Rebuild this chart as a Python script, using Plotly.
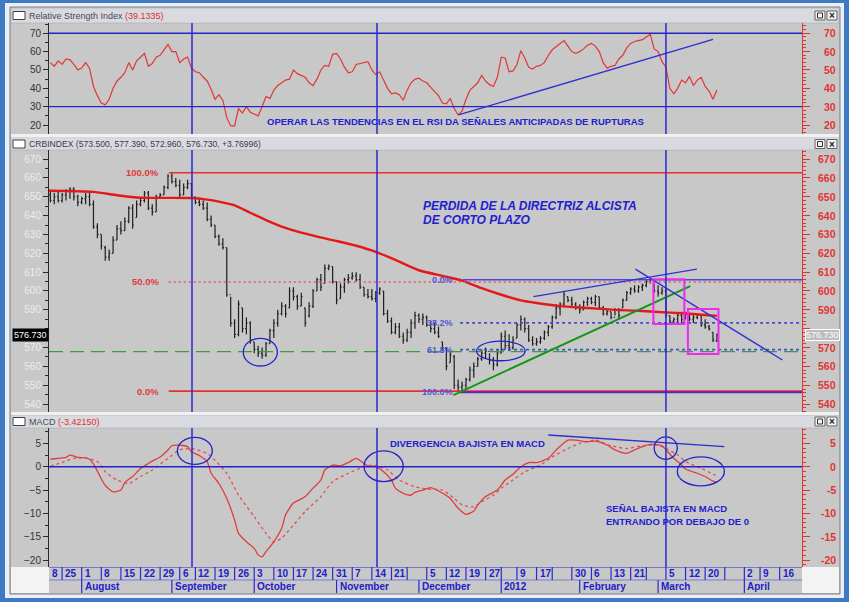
import pandas as pd
import plotly.graph_objects as go

W, H = 849, 602
FONT = "Liberation Sans, Arial, sans-serif"
BLUE = "#2424c8"
RED = "#e23434"
GRAY = "#c8c8c8"

# trading calendar: weekends and exchange holidays are skipped, as in the chart
holidays = ["2011-09-05", "2011-11-24", "2011-12-26", "2012-01-02", "2012-01-16",
            "2012-02-20", "2012-04-06"]
days = [d.strftime("%Y-%m-%d") for d in pd.bdate_range("2011-07-18", "2012-04-30")]
days = [d for d in days if d not in holidays]
day_no = {d: i for i, d in enumerate(days)}

first_bar = "2011-07-20"

# CRB index daily bars (Jul 20 2011 - Mar 22 2012)
high = [653, 652, 653, 652, 654, 655, 655, 651, 650, 652,
        652, 648, 636, 630, 624, 622, 629, 635, 637, 639,
        645, 646, 648, 650, 653, 653, 646, 651, 652, 656,
        662, 663, 660, 659, 657, 659, 657, 650, 649, 648,
        647, 640, 635, 630, 628, 623, 597, 585, 595, 591,
        586, 584, 573, 571, 570, 573, 580, 585, 590, 594,
        593, 602, 602, 598, 599, 591, 594, 601, 607, 609,
        614, 614, 613, 605, 604, 607, 609, 610, 610, 609,
        602, 601, 601, 600, 602, 600, 590, 586, 583, 583,
        578, 580, 585, 589, 588, 588, 587, 584, 583, 581,
        573, 570, 568, 566, 553, 552, 554, 560, 562, 565,
        569, 570, 567, 565, 569, 578, 579, 577, 576, 583,
        587, 586, 582, 576, 575, 576, 579, 582, 587, 593,
        594, 600, 597, 597, 594, 593, 595, 597, 597, 598,
        597, 592, 590, 589, 591, 591, 596, 600, 602, 603,
        603, 604, 606, 607, 604, 603, 602, 601, 587, 586,
        588, 589, 589, 588, 588, 588, 587, 585, 582, 578,
        577.39]
low = [647, 646, 647, 647, 648, 649, 648, 645, 646, 646,
       645, 633, 628, 622, 616, 616, 620, 627, 630, 632,
       636, 633, 639, 645, 647, 643, 640, 642, 649, 651,
       654, 657, 655, 649, 651, 654, 650, 646, 645, 643,
       637, 634, 628, 624, 622, 597, 581, 575, 576, 578,
       577, 572, 567, 565, 564, 565, 572, 575, 581, 587,
       586, 591, 595, 590, 592, 581, 586, 591, 600, 600,
       604, 611, 604, 593, 596, 599, 604, 606, 605, 601,
       597, 596, 595, 594, 598, 587, 583, 577, 577, 575,
       572, 573, 575, 580, 583, 582, 581, 578, 577, 575,
       568, 558, 562, 548, 547, 546.5, 548, 552, 554, 560,
       563, 564, 561, 558, 560, 567, 569, 568, 569, 575,
       579, 578, 573, 571, 571, 572, 574, 576, 580, 585,
       587, 592, 594, 592, 590, 588, 590, 592, 593, 592,
       590, 587, 587, 585, 587, 585, 591, 595, 598, 599,
       599, 600, 602, 604, 599, 597, 598, 586, 583, 583,
       583, 583, 585, 584, 583, 585, 581, 580, 579, 573,
       572.96]
open_ = [651, 648, 650, 648, 651, 653, 654, 650, 647, 649,
         650, 646, 634, 630, 623, 618, 620, 627, 633, 632,
         637, 644, 639, 646, 648, 652, 644, 642, 650, 651,
         655, 661, 658, 656, 651, 655, 657, 650, 647, 646,
         644, 638, 635, 629, 625, 623, 598, 583, 577, 591,
         580, 583, 573, 569, 567, 566, 572, 579, 583, 588,
         592, 591, 600, 597, 592, 591, 587, 592, 600, 606,
         604, 612, 613, 605, 596, 602, 606, 607, 608, 606,
         602, 598, 597, 596, 599, 600, 588, 584, 578, 581,
         576, 574, 578, 583, 587, 585, 586, 582, 580, 578,
         573, 570, 562, 565, 550, 549, 550, 553, 558, 560,
         564, 567, 568, 563, 561, 567, 576, 571, 570, 575,
         582, 585, 580, 574, 572, 573, 575, 578, 581, 586,
         591, 593, 597, 595, 593, 591, 590, 594, 596, 594,
         597, 591, 588, 589, 586, 590, 591, 595, 599, 601,
         600, 602, 603, 605, 604, 600, 599, 600, 587, 584,
         585, 587, 585, 588, 585, 586, 587, 582, 581, 578,
         573.5]
close = [648, 650, 648, 651, 653, 654, 650, 647, 649, 650,
         646, 634, 630, 624, 618, 620, 627, 633, 632, 637,
         644, 635, 646, 648, 652, 644, 642, 650, 651, 655,
         661, 658, 656, 651, 655, 657, 651, 647, 646, 644,
         638, 635, 629, 625, 623, 598, 583, 577, 593, 580,
         583, 574, 569, 567, 566, 572, 579, 583, 588, 592,
         588, 600, 597, 592, 597, 583, 592, 600, 606, 602,
         612, 613, 605, 595, 602, 606, 607, 608, 606, 602,
         598, 597, 596, 599, 601, 588, 584, 578, 581, 576,
         574, 578, 583, 587, 585, 586, 582, 580, 578, 576,
         570, 560, 566, 550, 549, 550, 553, 558, 560, 564,
         567, 568, 563, 561, 567, 576, 571, 570, 574, 582,
         585, 580, 574, 572, 573, 575, 578, 581, 586, 591,
         593, 598, 595, 593, 591, 590, 594, 596, 594, 597,
         591, 588, 589, 586, 590, 587, 595, 599, 601, 600,
         602, 603, 605, 606, 600, 599, 600, 587, 584, 585,
         587, 585, 588, 585, 586, 587, 582, 581, 580, 574,
         576.73]

rsi = [54, 52, 55, 53, 56, 55.5, 53, 50, 51, 54,
       51, 41, 36, 32, 31, 34, 40, 44, 46, 48.5,
       54, 50, 55, 57, 59, 52, 53.5, 57, 58, 61,
       64, 60, 60, 54, 56, 57, 51, 49, 48.5, 46,
       44, 39.5, 34, 36.5, 33.5, 24, 19.5, 19.5, 29, 26.5,
       30, 27, 26, 25, 30, 35.5, 34.5, 39, 41.5, 43,
       44.5, 45, 50, 48, 47, 46, 43, 41.5, 45, 50,
       52.5, 52, 58.5, 59, 56, 51.5, 48.5, 49, 53, 53.5,
       54, 54.5, 50, 47.5, 49, 44.5, 40, 37, 37.5, 36.5,
       33.5, 39, 43, 45, 45.5, 44, 43, 40.5, 38.5, 36,
       32, 31.5, 34.5, 29, 25.5, 27.5, 34, 39, 41, 43,
       47, 44, 42, 41, 46, 57, 56.5, 49, 49.5, 53,
       60.5, 56.5, 51.5, 50.5, 52, 52.5, 54, 58, 61, 62.5,
       64.5, 66, 63, 60, 59, 60, 61.5, 63.5, 64.5, 63,
       60, 54, 51, 52, 52.5, 56, 58, 62, 64.5, 65.5,
       66, 66.5, 68, 69.5, 61.5, 60, 54.5, 51.5, 40, 37,
       40, 44.5, 43, 46.5, 41.5, 44.5, 46, 41, 38.5, 34,
       39.1]

# moving average, read as trading-day number (0 = Jul 18 2011) / value
ma_day = [1, 13, 19, 25, 38, 42, 45, 49, 53, 57, 61, 66, 74, 80, 85, 90, 96, 102, 107, 112,
          117, 122, 126, 132, 139, 146, 152, 160, 166, 172]
ma_val = [653.2, 652.6, 650.8, 649.5, 649.3, 648.5, 647.4, 645.4, 641.5, 637.6, 634.2, 631,
          627, 624, 620.8, 616.5, 611, 608, 605.5, 601.5, 598, 595, 593.6, 592, 591, 590,
          589.5, 588.5, 587.8, 586.8]

macd_day = [2, 4, 6, 7, 9, 11, 12, 13, 15, 16, 18, 20, 21, 23, 25, 27, 28, 30, 32, 33,
            35, 37, 38, 40, 42, 43, 45, 47, 49, 50, 52, 54, 55, 56, 57, 59, 61, 62, 64, 66,
            67, 69, 71, 72, 74, 76, 78, 80, 82, 83, 85, 87, 89, 90, 92, 94, 95, 97, 99, 101,
            104, 106, 108, 110, 111, 113, 116, 118, 120, 122, 124, 126, 129, 131, 134, 136,
            139, 141, 144, 146, 149, 151, 153, 155, 158, 159, 161, 163, 164, 167, 169, 171, 172]
macd_val = [1.6, 1.8, 2.0, 2.5, 2.0, 1.9, 1.6, 0.6, -2.6, -4.0, -5.4, -5.0, -3.4, -2.1, -0.4,
            0.7, 1.2, 2.1, 3.6, 4.5, 4.6, 4.3, 3.2, 2.4, 1.1, -1.4, -3.6, -6.8, -11.4, -14.3,
            -16.1, -17.5, -18.9, -19.3, -18.2, -16.1, -13.2, -10.3, -7.8, -6.9, -6.4, -4.6,
            -2.85, -0.7, 0.36, 0.2, 0.9, 1.8, 0.7, 0.2, 0.0, -1.1, -2.85, -4.6, -5.7, -6.1,
            -5.5, -5.0, -4.5, -5.2, -6.8, -8.9, -10.2, -9.5, -8.2, -6.4, -5.0, -2.85, -1.6,
            0.0, 0.9, 0.9, 1.8, 3.6, 5.7, 5.7, 5.35, 5.5, 4.65, 3.6, 2.85, 3.6, 4.3, 4.8, 4.5,
            3.6, 1.8, 0.36, -0.5, -1.4, -2.1, -3.1, -3.42]
sig_day = [2, 5, 8, 11, 14, 16, 19, 22, 25, 28, 32, 35, 38, 42, 44, 47, 50, 54, 57, 59,
           61, 64, 67, 71, 74, 78, 81, 84, 88, 91, 95, 98, 102, 105, 107, 110, 112, 115, 117, 120,
           123, 127, 130, 134, 137, 141, 145, 149, 153, 157, 159, 162, 164, 168, 171, 172]
sig_val = [0.1, 0.9, 1.8, 1.9, 1.1, -1.1, -2.85, -3.6, -2.1, -0.7, 1.8, 3.6, 3.9, 2.85, 1.4,
           -1.4, -6.1, -10.7, -14.3, -16.1, -15.3, -12.5, -9.6, -6.4, -3.2, -1.4, -0.36, 0.36,
           -0.7, -2.85, -4.3, -4.8, -5.0, -6.8, -8.2, -8.6, -7.5, -6.1, -4.6, -2.85, -1.1, 0.36,
           2.1, 3.9, 5.0, 5.7, 4.5, 3.9, 4.5, 4.65, 3.9, 2.5, 1.1, -0.36, -1.6, -1.9]

last_price = 576.73
rsi_ticks = [20, 30, 40, 50, 60, 70]
price_ticks = [540, 550, 560, 570, 590, 600, 610, 620, 630, 640, 650, 660, 670]  # 580 sits under the last-price box
macd_ticks = [-20, -15, -10, -5, 0, 5]

week_dates = ["2011-07-18", "2011-07-25", "2011-08-01", "2011-08-08", "2011-08-15", "2011-08-22",
              "2011-08-29", "2011-09-06", "2011-09-12", "2011-09-19", "2011-09-26", "2011-10-03",
              "2011-10-10", "2011-10-17", "2011-10-24", "2011-10-31", "2011-11-07", "2011-11-14",
              "2011-11-21", "2011-11-28", "2011-12-05", "2011-12-12", "2011-12-19", "2011-12-27",
              "2012-01-03", "2012-01-09", "2012-01-17", "2012-01-23", "2012-01-30", "2012-02-06",
              "2012-02-13", "2012-02-21", "2012-02-27", "2012-03-05", "2012-03-12", "2012-03-19",
              "2012-03-26", "2012-04-02", "2012-04-09", "2012-04-16"]
week_labels = ["8", "25", "1", "8", "15", "22", "29", "6", "12", "19", "26", "3", "10", "17",
               "24", "31", "7", "14", "21", "", "5", "12", "19", "27", "", "9", "17", "", "30",
               "6", "13", "21", "", "5", "12", "20", "", "2", "9", "16"]
month_dates = ["2011-08-01", "2011-09-01", "2011-10-03", "2011-11-01", "2011-12-01",
               "2012-01-03", "2012-02-01", "2012-03-01", "2012-04-02"]
month_labels = ["August", "September", "October", "November", "December", "2012",
                "February", "March", "April"]

bar_x = list(range(day_no[first_bar], day_no[first_bar] + len(close)))
X_RANGE = [1.66, 193.7]


def px(x):
    return x / W


def py(y):
    return 1 - y / H


fig = go.Figure()
fig.add_trace(go.Scatter(x=bar_x, y=rsi, mode="lines", line=dict(color="#e03838", width=1.2),
                         xaxis="x", yaxis="y", hoverinfo="skip"))
fig.add_trace(go.Ohlc(x=bar_x, open=open_, high=high, low=low, close=close,
                      increasing_line_color="#1e1e1e", decreasing_line_color="#1e1e1e",
                      line_width=1.2, tickwidth=0.3, xaxis="x2", yaxis="y2", hoverinfo="skip"))
fig.add_trace(go.Scatter(x=ma_day, y=ma_val, mode="lines", line=dict(color="#e41818", width=2.4, shape="spline", smoothing=0.6),
                         xaxis="x2", yaxis="y2", hoverinfo="skip"))
fig.add_trace(go.Scatter(x=sig_day, y=sig_val, mode="lines",
                         line=dict(color="#e05050", width=1.3, dash="3px,3px", shape="spline", smoothing=0.6),
                         xaxis="x3", yaxis="y3", hoverinfo="skip"))
fig.add_trace(go.Scatter(x=macd_day, y=macd_val, mode="lines",
                         line=dict(color="#e03c3c", width=1.3, shape="spline", smoothing=0.6),
                         xaxis="x3", yaxis="y3", hoverinfo="skip"))
# empty traces so the right-hand (red) axes are drawn
for ya in ["y4", "y5", "y6"]:
    xa = {"y4": "x", "y5": "x2", "y6": "x3"}[ya]
    fig.add_trace(go.Scatter(x=[None], y=[None], xaxis=xa, yaxis=ya, hoverinfo="skip"))
fig.add_trace(go.Scatter(x=[None], y=[None], xaxis="x4", yaxis="y7", hoverinfo="skip"))

rsi_rng = [15.1, 75.6]
price_rng = [535.8, 674.8]
macd_rng = [-21.5, 8.3]
xdom = [px(49), px(802)]
dom_rsi = [py(134), py(23)]
dom_price = [py(412), py(150)]
dom_macd = [py(567), py(428)]


def xax(anchor):
    return dict(domain=xdom, range=X_RANGE, anchor=anchor, visible=False, fixedrange=True,
                rangeslider=dict(visible=False))


def left_ax(dom, rng, ticks, mdt, color):
    return dict(domain=dom, range=rng, tickvals=ticks, ticks="outside", ticklen=5,
                tickcolor="#2a2a2a", showline=True, linecolor="#2a2a2a", linewidth=1,
                showgrid=False, zeroline=False, fixedrange=True,
                tickfont=dict(family=FONT, size=10, color=color),
                minor=dict(ticks="outside", ticklen=3, dtick=mdt, tick0=0, tickcolor="#2a2a2a", showgrid=False))


def right_ax(over, anchor, rng, dtick, mdt):
    return dict(overlaying=over, anchor=anchor, side="right", range=rng, dtick=dtick, tick0=0,
                ticks="outside", ticklen=7, tickcolor=RED, showline=True, linecolor=RED,
                showgrid=False, zeroline=False, showticklabels=False, fixedrange=True,
                minor=dict(ticks="outside", ticklen=3, dtick=mdt, tickcolor=RED, showgrid=False))


fig.update_layout(
    width=W, height=H, margin=dict(l=0, r=0, t=0, b=0),
    paper_bgcolor="#3f79c2", plot_bgcolor="rgba(0,0,0,0)", showlegend=False,
    xaxis=xax("y"), xaxis2=xax("y2"), xaxis3=xax("y3"),
    xaxis4=dict(domain=xdom, range=X_RANGE, anchor="y7", visible=False, fixedrange=True),
    yaxis=left_ax(dom_rsi, rsi_rng, rsi_ticks, 5, "#333333"),
    yaxis2=left_ax(dom_price, price_rng, price_ticks, 5, "#ececec"),
    yaxis3=left_ax(dom_macd, macd_rng, macd_ticks, 2.5, "#333333"),
    yaxis4=right_ax("y", "x", rsi_rng, 10, 2),
    yaxis5=right_ax("y2", "x2", price_rng, 10, 2),
    yaxis6=right_ax("y3", "x3", macd_rng, 5, 1),
    yaxis7=dict(domain=[py(593), py(567)], range=[0, 2], anchor="x4", visible=False, fixedrange=True),
)

shapes = []


def prect(x0, y0, x1, y1, fill, line=None, lw=0, layer="below"):
    shapes.append(dict(type="rect", xref="paper", yref="paper", x0=px(x0), x1=px(x1),
                       y0=py(y1), y1=py(y0), fillcolor=fill, layer=layer,
                       line=dict(color=line or fill, width=lw)))


# window frame, headers, separators
prect(5, 3, 844, 598, "#e9eff7")
prect(10, 7, 840, 594, GRAY, "#7a7a7a", 1)
for y0, y1 in [(8, 23), (137.5, 150), (415, 428)]:
    prect(11, y0, 839, y1, "#d8dadf", "#a9abb0", 0.6)
for y0, y1 in [(134, 137.5), (412, 415)]:
    prect(11, y0, 839, y1, "#f1f1f1")
prect(11, 567, 49, 593, "#f3f3f3")
prect(802, 567, 839, 593, "#f3f3f3")
# header icons
for yc in [15.5, 144, 421.5]:
    prect(13, yc - 4, 25, yc + 4, "#ffffff", "#404040", 1, "above")
    prect(815, yc - 4.5, 825, yc + 4.5, "#f4f4f4", "#606060", 1, "above")
    prect(817.5, yc - 2.5, 822.5, yc + 2.5, "#f4f4f4", "#303030", 1, "above")
    prect(827, yc - 4.5, 837, yc + 4.5, "#f4f4f4", "#606060", 1, "above")


def hline(xa, ya, y, color, width=1.5, dash="solid", x0=None, x1=None, layer="above"):
    if x0 is None:
        shapes.append(dict(type="line", xref=xa + " domain", yref=ya, x0=0, x1=1, y0=y, y1=y,
                           layer=layer, line=dict(color=color, width=width, dash=dash)))
    else:
        shapes.append(dict(type="line", xref=xa, yref=ya, x0=x0, x1=x1 if x1 is not None else X_RANGE[1],
                           y0=y, y1=y, layer=layer, line=dict(color=color, width=width, dash=dash)))


def seg(xa, ya, x0, y0, x1, y1, color, width=1.5):
    shapes.append(dict(type="line", xref=xa, yref=ya, x0=x0, y0=y0, x1=x1, y1=y1,
                       line=dict(color=color, width=width)))


def ell(xa, ya, x0, x1, y0, y1, color=BLUE, width=1.3, kind="circle"):
    shapes.append(dict(type=kind, xref=xa, yref=ya, x0=x0, x1=x1, y0=y0, y1=y1,
                       line=dict(color=color, width=width)))


# RSI panel
hline("x", "y", 70, BLUE, 1.4)
hline("x", "y", 30, BLUE, 1.4)
seg("x", "y", 106.1, 25.5, 171, 66.7, "#2e2ed0", 1.4)

# price panel: retracements, support, trendlines, boxes
hline("x2", "y2", 662.7, "#e83030", 1.4, x0=32.2)
hline("x2", "y2", 604.8, "#e05a5a", 1.4, dash="2px,3px", x0=32.2)
hline("x2", "y2", 546.9, "#e83030", 1.6, x0=32.2)
hline("x2", "y2", 606.0, "#4848d8", 1.4, x0=107.2)
hline("x2", "y2", 583.1, "#4848d8", 1.6, dash="3px,3px", x0=106.5)
hline("x2", "y2", 568.9, "#4848d8", 1.6, dash="3px,3px", x0=106.5)
hline("x2", "y2", 546.3, "#5a28b4", 2, x0=106.5)
hline("x2", "y2", 567.8, "#3d9d3d", 1.3, dash="14px,7px")
seg("x2", "y2", 104.8, 544.8, 165.2, 602.6, "#149614", 2)
seg("x2", "y2", 125.2, 597.0, 166.9, 611.6, "#3232d2", 1.3)
seg("x2", "y2", 151.2, 611.6, 188.7, 563.4, "#3232d2", 1.3)
ell("x2", "y2", 155.8, 163.7, 582.5, 606.2, "#f028f0", 2, "rect")
ell("x2", "y2", 164.6, 172.4, 566.6, 590.4, "#f028f0", 2, "rect")
ell("x2", "y2", 51.2, 59.9, 560.2, 574.9)
ell("x2", "y2", 110.7, 123.1, 563.0, 573.4)

# MACD panel
hline("x3", "y3", 0, BLUE, 1.4)
seg("x3", "y3", 129, 6.8, 173.9, 4.3, "#2e2ed0", 1.4)
ell("x3", "y3", 34.4, 43.3, 0.5, 6.3)
ell("x3", "y3", 82.0, 92.0, -3.2, 3.4)
ell("x3", "y3", 156.0, 161.9, 1.6, 6.4)
ell("x3", "y3", 161.9, 173.9, -4.1, 2.1)

# vertical markers through all three panels
for v in [38.13, 85.31, 159.0]:
    for xa, ya in [("x", "y"), ("x2", "y2"), ("x3", "y3")]:
        shapes.append(dict(type="line", xref=xa, yref=ya + " domain", x0=v, x1=v, y0=0, y1=1,
                           line=dict(color="#2a2ad0", width=1.5)))

# date strip
hline("x4", "y7", 2, "#2a2ad0", 1.2)
hline("x4", "y7", 1, "#7a7ae0", 1)
for d in week_dates:
    i = day_no[d]
    if i > X_RANGE[0]:
        shapes.append(dict(type="line", xref="x4", yref="y7", x0=i, x1=i, y0=1, y1=2,
                           line=dict(color="#2a2ad0", width=1.2)))
for d in month_dates:
    i = day_no[d]
    shapes.append(dict(type="line", xref="x4", yref="y7", x0=i, x1=i, y0=0, y1=1,
                       line=dict(color="#2a2ad0", width=1.2)))

ann = []


def note(text, x, y, xref="paper", yref="paper", size=9.5, color=BLUE, bold=True, italic=False,
         xanchor="left", yanchor="middle", **kw):
    t = text
    if bold:
        t = "<b>" + t + "</b>"
    if italic:
        t = "<i>" + t + "</i>"
    ann.append(dict(text=t, x=x, y=y, xref=xref, yref=yref, showarrow=False, xanchor=xanchor,
                    yanchor=yanchor, font=dict(family=FONT, size=size, color=color), **kw))


# panel titles
note("Relative Strength Index <span style='color:#e03030'>(39.1335)</span>", px(27), py(15.5),
     size=9, color="#4a4a58", bold=False)
note("CRBINDEX (573.500, 577.390, 572.960, 576.730, +3.76996)", px(27), py(144),
     size=8.6, color="#3a3a48", bold=False)
note("MACD <span style='color:#e03030'>(-3.42150)</span>", px(27), py(421.5),
     size=9, color="#4a4a58", bold=False)
for yc in [15.5, 144, 421.5]:
    note("×", px(832), py(yc), size=10, color="#202020", xanchor="center")

# right-hand red scale labels
for t in rsi_ticks:
    note(str(t), px(838), t, yref="y", size=10.5, color=RED, xanchor="right")
for t in price_ticks:
    note(str(t), px(838), t, yref="y2", size=10.5, color=RED, xanchor="right")
for t in macd_ticks:
    note(str(t), px(838), t, yref="y3", size=10.5, color=RED, xanchor="right")

# last price boxes
note(f"{last_price:.3f}", px(30.5), last_price, yref="y2", size=9, color="#ffffff", bold=False,
     xanchor="center", bgcolor="#000000", borderpad=1)
note(f"{last_price:.3f}", px(805), last_price, yref="y2", size=9, color="#ffffff", bold=False,
     bgcolor="#bdbdbd", bordercolor="#ffffff", borderwidth=1, borderpad=0)

# retracement labels
note("100.0%", px(161), 662.7, yref="y2", color="#e03838", xanchor="right")
note("50.0%", px(161), 604.8, yref="y2", color="#e03838", xanchor="right")
note("0.0%", px(161), 546.9, yref="y2", color="#e03838", xanchor="right")
for lab, v in [("0.0%", 606.0), ("38.2%", 583.1), ("61.8%", 568.9), ("100.0%", 546.3)]:
    note(lab, px(455), v, yref="y2", size=9, color="#5555d8", xanchor="right")

# commentary
note("OPERAR LAS TENDENCIAS EN EL RSI DA SEÑALES ANTICIPADAS DE RUPTURAS", 56.8, 21.7,
     xref="x", yref="y", color="#2020d0")
note("PERDIDA DE LA DIRECTRIZ ALCISTA", 96.5, 645.1, xref="x2", yref="y2", size=12,
     color="#2020d0", italic=True)
note("DE CORTO PLAZO", 96.5, 637.6, xref="x2", yref="y2", size=12, color="#2020d0", italic=True)
note("DIVERGENCIA BAJISTA EN MACD", 88.1, 5.07, xref="x3", yref="y3", color="#2020d0")
note("SEÑAL BAJISTA EN MACD", 143.2, -9.06, xref="x3", yref="y3", color="#2020d0")
note("ENTRANDO POR DEBAJO DE 0", 143.2, -11.84, xref="x3", yref="y3", color="#2020d0")

# date strip labels
for d, lab in zip(week_dates, week_labels):
    if lab:
        note(lab, max(day_no[d], X_RANGE[0]), 1.5, xref="x4", yref="y7", size=10,
             color="#2020c8", xshift=1)
for d, lab in zip(month_dates, month_labels):
    note(lab, day_no[d], 0.5, xref="x4", yref="y7", size=10, color="#2020c8", xshift=1)

fig.update_layout(shapes=shapes, annotations=ann)
fig.write_html("out.html", config={"displayModeBar": False},
               post_script="document.body.style.margin='0';")
